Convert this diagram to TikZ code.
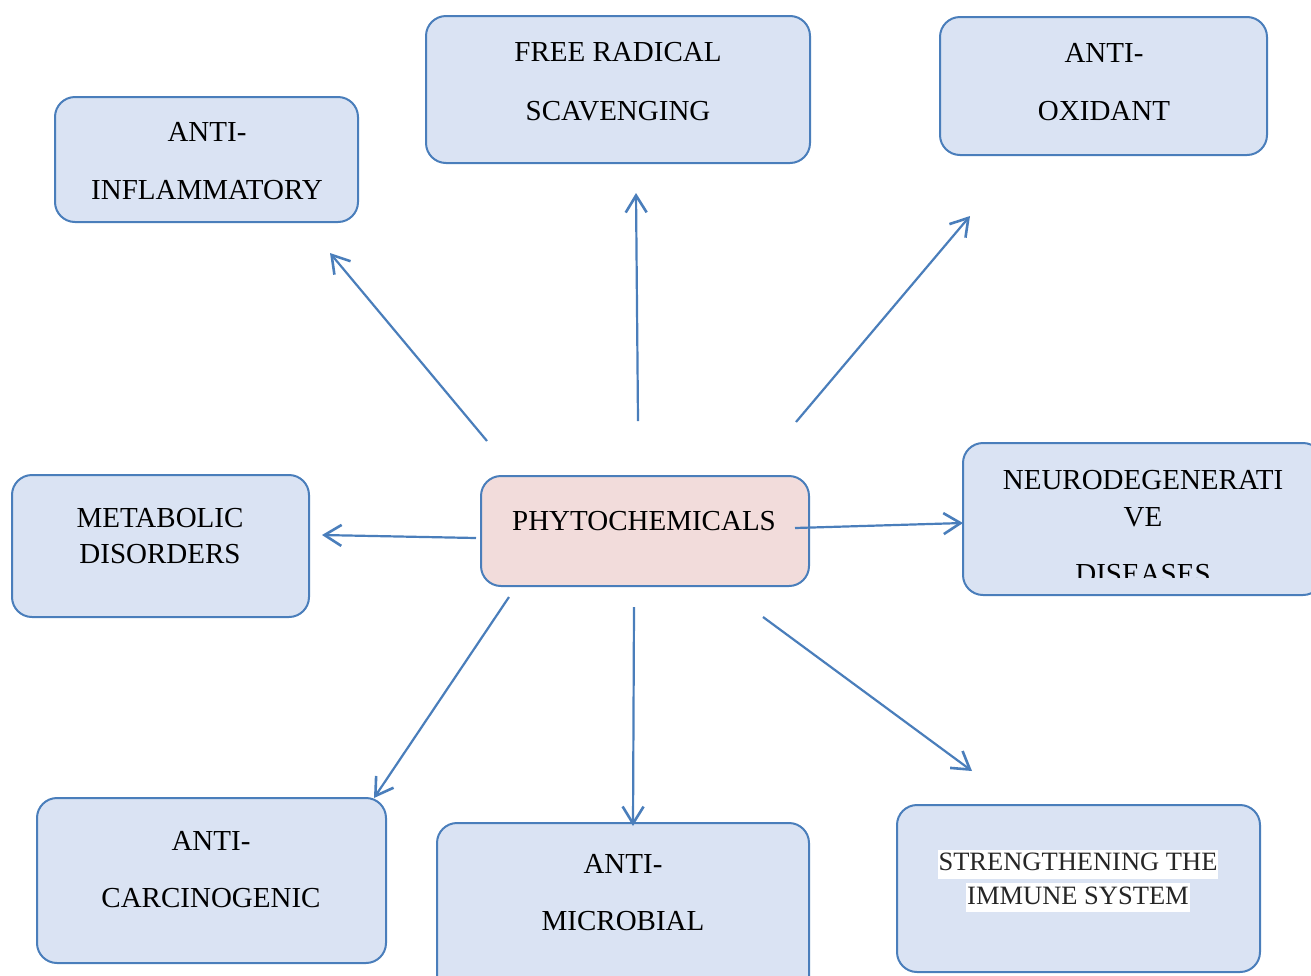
\documentclass[tikz,border=0pt]{standalone}
\usepackage{fontspec}
\setmainfont{Liberation Serif}
\usetikzlibrary{arrows.meta}
\definecolor{boxfill}{HTML}{DAE3F3}
\definecolor{boxline}{HTML}{4A7EBB}
\definecolor{centerfill}{HTML}{F2DCDB}
\tikzset{
  box/.style={draw=boxline, line width=2pt, rounded corners=20pt, fill=boxfill, inner sep=0pt},
  centerbox/.style={box, fill=centerfill},
  lbl/.style={anchor=base, inner sep=0pt, font=\fontsize{29}{35}\selectfont},
  smalllbl/.style={anchor=base, fill=white, inner xsep=1pt, inner ysep=0pt, text height=21pt, text depth=8pt, font=\fontsize{26.5}{33}\selectfont, text=black!85},
  arr/.style={draw=boxline, line width=2.2pt, -{Straight Barb[length=17pt,width=21pt,line width=2.6pt]}}
}
\begin{document}
\begin{tikzpicture}[x=1pt,y=-1pt]
\useasboundingbox (0,0) rectangle (1311,975);
\clip (0,0) rectangle (1311,975);
% boxes
\node[box, minimum width=303pt, minimum height=125pt] (infl) at (206.5,159.5) {};
\node[box, minimum width=384pt, minimum height=147pt] (free) at (618,89.5) {};
\node[box, minimum width=327pt, minimum height=138pt] (oxid) at (1103.5,86) {};
\node[box, minimum width=297pt, minimum height=142pt] (metab) at (160.5,546) {};
\node[centerbox, minimum width=328pt, minimum height=110pt] (phyto) at (645,531) {};
\node[box, minimum width=360pt, minimum height=152pt] (neuro) at (1143,519) {};
\node[box, minimum width=349pt, minimum height=165pt] (carc) at (211.5,880.5) {};
\node[box, minimum width=372pt, minimum height=177pt] (micro) at (623,911.5) {};
\node[box, minimum width=363pt, minimum height=167pt] (immune) at (1078.5,888.5) {};
% texts
\node[lbl] (t1a) at (207,141) {ANTI-};
\node[lbl] (t1b) at (207,199) {INFLAMMATORY};
\node[lbl] (t2a) at (618,61.5) {FREE RADICAL};
\node[lbl] (t2b) at (618,120) {SCAVENGING};
\node[lbl] (t3a) at (1104,62) {ANTI-};
\node[lbl] (t3b) at (1104,120) {OXIDANT};
\node[lbl] (t4a) at (160,527) {METABOLIC};
\node[lbl] (t4b) at (160,563) {DISORDERS};
\node[lbl] (t5) at (644,530.5) {PHYTOCHEMICALS};
\node[lbl] (t6a) at (1143,489) {NEURODEGENERATI};
\node[lbl] (t6b) at (1143,526) {VE};
\begin{scope}
\clip (950,440) rectangle (1311,577);
\node[lbl] (t6c) at (1143,583) {DISEASES};
\end{scope}
\node[lbl] (t7a) at (211,850) {ANTI-};
\node[lbl] (t7b) at (211,907) {CARCINOGENIC};
\node[lbl] (t8a) at (623,873) {ANTI-};
\node[lbl] (t8b) at (623,930) {MICROBIAL};
\node[smalllbl] (t9a) at (1078,870.5) {STRENGTHENING THE};
\node[smalllbl] (t9b) at (1078,904) {IMMUNE SYSTEM};
% arrow end points
\coordinate (s1) at (487,441); \coordinate (e1) at (330,253);
\coordinate (s2) at (638,421); \coordinate (e2) at (636,193);
\coordinate (s3) at (796,422); \coordinate (e3) at (970,216);
\coordinate (s4) at (476,538); \coordinate (e4) at (322,535);
\coordinate (s5) at (795,528); \coordinate (e5) at (963,523);
\coordinate (s6) at (509,597); \coordinate (e6) at (374,798);
\coordinate (s7) at (634,607); \coordinate (e7) at (633,826);
\coordinate (s8) at (763,617); \coordinate (e8) at (972,771);
\draw[arr] (s1) -- (e1);
\draw[arr] (s2) -- (e2);
\draw[arr] (s3) -- (e3);
\draw[arr] (s4) -- (e4);
\draw[arr] (s5) -- (e5);
\draw[arr] (s6) -- (e6);
\draw[arr] (s7) -- (e7);
\draw[arr] (s8) -- (e8);
\end{tikzpicture}
\end{document}
